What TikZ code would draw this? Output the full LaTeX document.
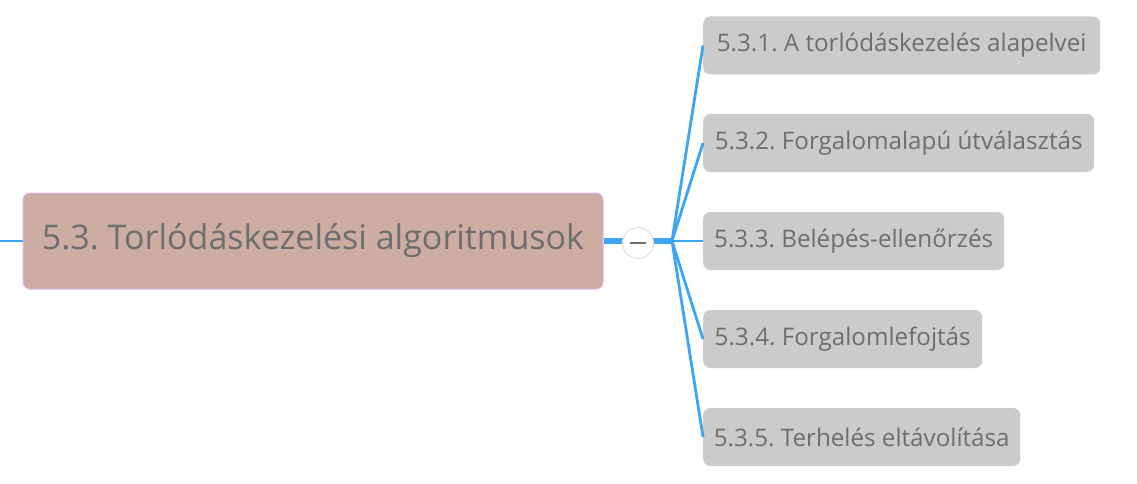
\documentclass[tikz,border=0pt]{standalone}
\usepackage{fontspec}
\setmainfont{Open Sans}
\usepackage{tikz}
\usetikzlibrary{positioning}
\definecolor{linkblue}{HTML}{3DA5F5}
\definecolor{rootfill}{HTML}{CDADA1}
\definecolor{rootdraw}{HTML}{DDB3EE}
\definecolor{leaffill}{HTML}{CDCACB}
\definecolor{textgray}{HTML}{6E6E6E}
\frenchspacing

\begin{document}
\begin{tikzpicture}[x=1pt,y=-1pt,
    rootbox/.style={shape=rectangle,rounded corners=7pt,fill=rootfill,draw=rootdraw,line width=1pt,
      text=textgray,minimum width=580pt,minimum height=96pt,inner sep=0pt,
      font=\fontsize{34}{40}\selectfont},
    leafbox/.style={shape=rectangle,rounded corners=7pt,fill=leaffill,draw=none,anchor=west,
      text=textgray,minimum height=58pt,inner sep=0pt,font=\fontsize{24.2}{28}\selectfont},
    link/.style={draw=linkblue,line width=2.8pt}]
  \useasboundingbox (0,0) rectangle (1137,484);

  \node[rootbox]                       (R)  at (313,241)  {5.3. Torlódáskezelési algoritmusok};
  \coordinate                          (In) at (0,241);
  \coordinate                          (J)  at (672,241);
  \node[leafbox,minimum width=397pt]   (A)  at (703,45.5) {5.3.1. A torlódáskezelés alapelvei};
  \node[leafbox,minimum width=391pt]   (B)  at (703,143)  {5.3.2. Forgalomalapú útválasztás};
  \node[leafbox,minimum width=301pt]   (C)  at (703,241)  {5.3.3. Belépés-ellenőrzés};
  \node[leafbox,minimum width=279pt]   (D)  at (703,339)  {5.3.4. Forgalomlefojtás};
  \node[leafbox,minimum width=317pt]   (E)  at (703,437)  {5.3.5. Terhelés eltávolítása};

  \path[link] (In) edge (R.west);
  \path[link] (J) edge (A.west) edge (B.west) edge (C.west) edge (D.west) edge (E.west);
  \draw[link,line width=5.5pt] (R.east) -- (J);

  % collapse button
  \node[shape=circle,fill=white,draw=black!12,line width=1pt,minimum size=31pt,inner sep=0pt] (K) at (638,243) {};
  \draw[textgray,line width=2.5pt] ([xshift=-8pt]K.center) -- ([xshift=8pt]K.center);
\end{tikzpicture}
\end{document}
